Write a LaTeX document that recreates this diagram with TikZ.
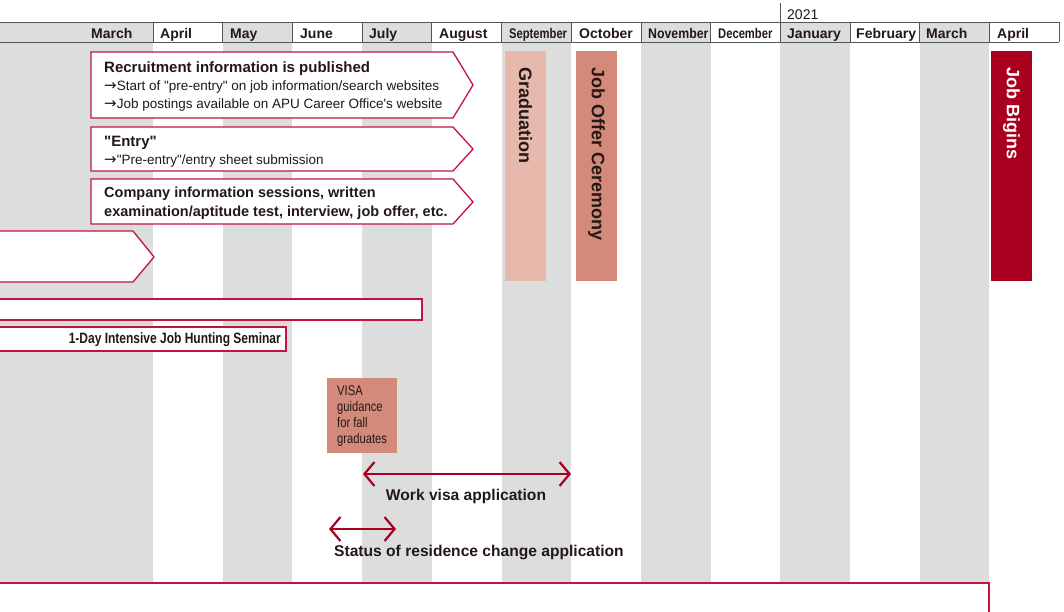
\documentclass[tikz,border=0pt]{standalone}
\usepackage{fontspec}
\setmainfont{Liberation Sans}
\newfontfamily\narrowfont[FakeStretch=0.8]{Liberation Sans}
\newfontfamily\semifont[FakeStretch=0.88]{Liberation Sans}
\newfontfamily\arrowfont{DejaVu Sans}
\usetikzlibrary{arrows.meta,positioning}
\definecolor{colgray}{HTML}{DCDDDD}
\definecolor{rimred}{HTML}{C2143C}
\definecolor{barpink}{HTML}{E6B9AC}
\definecolor{barsalmon}{HTML}{D48A7B}
\definecolor{barcrimson}{HTML}{A9001F}
\definecolor{ink}{HTML}{231815}
\definecolor{rulegray}{HTML}{555555}
\newcommand{\qq}{\textquotedbl}
\newcommand{\tofrom}{{\arrowfont\fontsize{15}{15}\selectfont →}}

\begin{document}
\begin{tikzpicture}[x=1pt,y=-1pt,
    month/.style={anchor=base west,inner sep=0pt,font=\fontsize{14}{16}\bfseries,text=ink},
    stage/.style={draw=rimred,line width=1.3pt,fill=white},
    vlabel/.style={rotate=-90,anchor=west,inner sep=0pt,font=\fontsize{18}{20}\bfseries},
    boxtext/.style={anchor=north west,inner sep=0pt,align=left,text=ink},
    visaarrow/.style={draw=barcrimson,line width=2.2pt,{Straight Barb[length=10pt,width=24pt,line width=2.2pt]}-{Straight Barb[length=10pt,width=24pt,line width=2.2pt]}},
    caption/.style={inner sep=0pt,font=\fontsize{15.6}{17}\bfseries,text=ink}]
  \useasboundingbox (0,0) rectangle (1064,611);
  \fill[colgray] (0,22) rectangle (153,611);
  \foreach \k in {2,4,...,12}
    \fill[colgray] ({83.3+69.7*\k},22) rectangle ({153+69.7*\k},611);
  \draw[rulegray,line width=0.8pt] (0,22) -- (1059,22);
  \draw[rulegray,line width=0.8pt] (0,42) -- (1059,42);
  \foreach \k in {1,...,14}
    \draw[rulegray,line width=0.8pt] ({83.3+69.7*\k},22) -- ({83.3+69.7*\k},42);
  \draw[rulegray,line width=0.8pt] (780,3) -- (780,22);
  \node[anchor=base west,inner sep=0pt,font=\fontsize{14}{16}\selectfont,text=ink] (year) at (787,19) {2021};
  \node[month] (m0) at (91,38.5) {March};
  \node[month] (m1) at (160,38.5) {April};
  \node[month] (m2) at (230,38.5) {May};
  \node[month] (m3) at (300,38.5) {June};
  \node[month] (m4) at (369,38.5) {July};
  \node[month] (m5) at (439,38.5) {August};
  \node[month,font=\fontsize{14}{16}\narrowfont\bfseries] (m6) at (509,38.5) {September};
  \node[month] (m7) at (579,38.5) {October};
  \node[month,font=\fontsize{14}{16}\semifont\bfseries] (m8) at (648,38.5) {November};
  \node[month,font=\fontsize{14}{16}\narrowfont\bfseries] (m9) at (718,38.5) {December};
  \node[month] (m10) at (787,38.5) {January};
  \node[month] (m11) at (856,38.5) {February};
  \node[month] (m12) at (926,38.5) {March};
  \node[month] (m13) at (997,38.5) {April};

  \draw[stage] (91,52) -- (453,52) -- (473,85) -- (453,118) -- (91,118) -- cycle;
  \draw[stage] (91,127) -- (453,127) -- (473,149) -- (453,171) -- (91,171) -- cycle;
  \draw[stage] (91,179) -- (453,179) -- (473,202) -- (453,224) -- (91,224) -- cycle;
  \draw[stage] (-5,231) -- (133,231) -- (154,257) -- (133,282) -- (-5,282) -- cycle;
  \draw[stage] (-5,299) rectangle (422,320);
  \draw[stage] (-5,327) rectangle (286,351);
  \draw[stage] (-5,583) rectangle (989,640);

  \node[boxtext,font=\fontsize{13.5}{18}\selectfont] (recruit) at (104,61)
    {{\fontsize{15}{18}\bfseries Recruitment information is published}\\
     \tofrom Start of \qq pre-entry\qq{} on job information/search websites\\
     \tofrom Job postings available on APU Career Office\textquotesingle s website};
  \node[boxtext,font=\fontsize{13.5}{18}\selectfont] (entry) at (104,136)
    {{\fontsize{15}{18}\bfseries \qq Entry\qq}\\
     \tofrom\qq Pre-entry\qq/entry sheet submission};
  \node[boxtext,font=\fontsize{14.5}{19}\bfseries] (company) at (104,187)
    {Company information sessions, written\\
     examination/aptitude test, interview, job offer, etc.};
  \node[anchor=east,inner sep=0pt,font=\fontsize{15}{17}\narrowfont\bfseries,text=ink] (seminar) at (281,339.5)
    {1-Day Intensive Job Hunting Seminar};

  \fill[barpink] (505,51) rectangle (546,281);
  \fill[barsalmon] (576,51) rectangle (617,281);
  \fill[barcrimson] (991,51) rectangle (1032,281);
  \node[vlabel,text=ink] (grad) at (525.5,67) {Graduation};
  \node[vlabel,text=ink] (offer) at (596.5,67) {Job Offer Ceremony};
  \node[vlabel,text=white] (begin) at (1011.5,67) {Job Bigins};

  \fill[barsalmon] (327,378) rectangle (397,453);
  \node[boxtext,font=\fontsize{14}{16}\narrowfont] (visa) at (337,386)
    {VISA\\guidance\\for fall\\graduates};

  \coordinate (workL) at (363,474);
  \coordinate (workR) at (571,474);
  \draw[visaarrow] (workL) -- (workR);
  \node[caption] (work) at (466,496.5) {Work visa application};
  \coordinate (statL) at (329,529);
  \coordinate (statR) at (396,529);
  \draw[visaarrow] (statL) -- (statR);
  \node[caption,anchor=west] (status) at (334,552.5) {Status of residence change application};
\end{tikzpicture}
\end{document}
